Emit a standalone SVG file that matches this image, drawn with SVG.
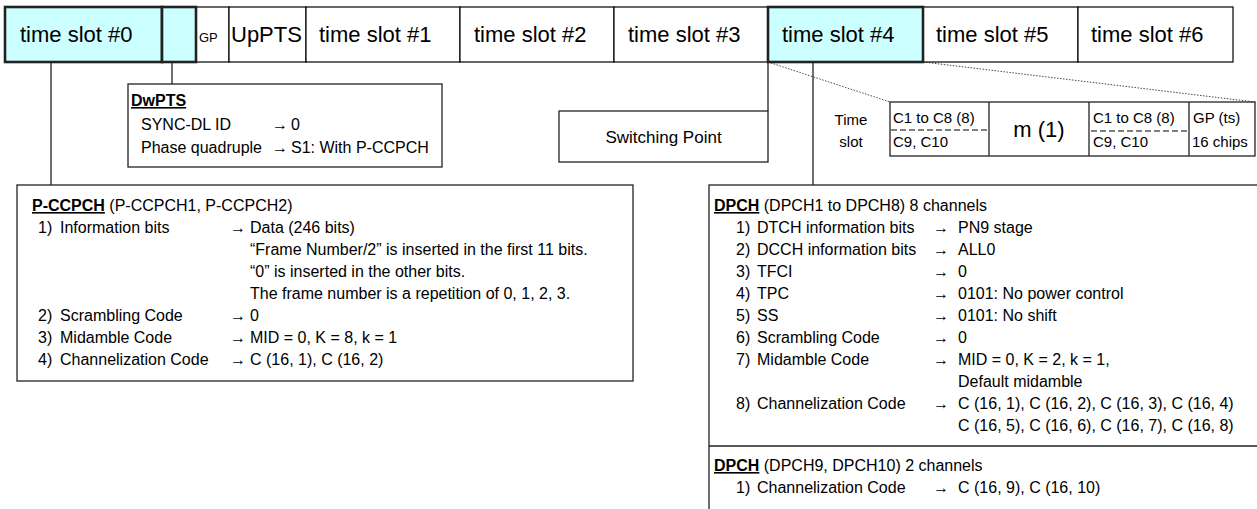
<svg xmlns="http://www.w3.org/2000/svg" width="1257" height="509" viewBox="0 0 1257 509">
<style>
text{font-family:"Liberation Sans",Arial,sans-serif;fill:#000}
.ts{font-size:22px}
.b{font-size:16px}
.s{font-size:15px}
.cell{fill:#fff;stroke:#000;stroke-width:1.2}
.hl{fill:#ccffff;stroke:#222;stroke-width:2.6}
.box{fill:#fff;stroke:#222;stroke-width:1.3}
.ln{stroke:#222;stroke-width:1.3;fill:none}
.dot{stroke:#333;stroke-width:0.9;stroke-dasharray:1.5 1.5;fill:none}
.dash{stroke:#000;stroke-width:1.2;stroke-dasharray:6 3;fill:none}
.t{font-weight:bold;text-decoration:underline}
</style>
<rect width="1257" height="509" fill="#fff"/>
<g id="connectors">
<line class="ln" x1="51" y1="62" x2="51" y2="185"/>
<line class="ln" x1="172" y1="62" x2="172" y2="84"/>
<line class="ln" x1="768" y1="62" x2="768" y2="111"/>
<line class="ln" x1="813" y1="62" x2="813" y2="185"/>
<line class="dot" x1="768" y1="62" x2="890" y2="102"/>
<line class="dot" x1="923" y1="62" x2="1255" y2="102"/>
</g>
<g id="frame">
<g id="gp"><rect class="cell" x="196" y="7" width="33" height="55"/><text x="199" y="42" font-size="13">GP</text></g>
<g id="uppts"><rect class="cell" x="229" y="7" width="77" height="55"/><text class="ts" x="231" y="42">UpPTS</text></g>
<g id="ts1"><rect class="cell" x="306" y="7" width="154" height="55"/><text class="ts" x="319" y="42">time slot #1</text></g>
<g id="ts2"><rect class="cell" x="460" y="7" width="154" height="55"/><text class="ts" x="474" y="42">time slot #2</text></g>
<g id="ts3"><rect class="cell" x="614" y="7" width="154" height="55"/><text class="ts" x="628" y="42">time slot #3</text></g>
<g id="ts5"><rect class="cell" x="923" y="7" width="155" height="55"/><text class="ts" x="936" y="42">time slot #5</text></g>
<g id="ts6"><rect class="cell" x="1078" y="7" width="155" height="55"/><text class="ts" x="1091" y="42">time slot #6</text></g>
<g id="ts0"><rect class="hl" x="5" y="7" width="157" height="55"/><text class="ts" x="20" y="42">time slot #0</text></g>
<g id="dwpts-cell"><rect class="hl" x="162" y="7" width="34" height="55"/></g>
<g id="ts4"><rect class="hl" x="768" y="7" width="155" height="55"/><text class="ts" x="782" y="42">time slot #4</text></g>
</g>
<g id="dwpts">
<rect class="box" x="128" y="84" width="314" height="83"/>
<text class="b t" x="131" y="106">DwPTS</text>
<text class="b" x="141" y="130">SYNC-DL ID</text><text class="b" x="272" y="130">→</text><text class="b" x="291" y="130">0</text>
<text class="b" x="141" y="153">Phase quadruple</text><text class="b" x="272" y="153">→</text><text class="b" x="291" y="153">S1: With P-CCPCH</text>
</g>
<g id="switching-point">
<rect class="box" x="559" y="111" width="209" height="51"/>
<text x="663.5" y="142.5" font-size="17" text-anchor="middle">Switching Point</text>
</g>
<g id="slot-detail">
<text class="s" x="851" y="125" text-anchor="middle">Time</text>
<text class="s" x="851" y="147" text-anchor="middle">slot</text>
<rect class="box" x="890" y="102" width="365" height="54"/>
<line class="ln" x1="989" y1="102" x2="989" y2="156"/>
<line class="ln" x1="1089" y1="102" x2="1089" y2="156"/>
<line class="ln" x1="1189" y1="102" x2="1189" y2="156"/>
<line class="dash" x1="891" y1="130" x2="989" y2="130"/>
<line class="dash" x1="1091" y1="131" x2="1189" y2="131"/>
<text class="s" x="893" y="123">C1 to C8 (8)</text>
<text class="s" x="893" y="147">C9, C10</text>
<text x="1039" y="137" font-size="22" text-anchor="middle">m (1)</text>
<text class="s" x="1093" y="123">C1 to C8 (8)</text>
<text class="s" x="1093" y="147">C9, C10</text>
<text class="s" x="1193" y="123">GP (ts)</text>
<text class="s" x="1192" y="147">16 chips</text>
</g>
<g id="pccpch">
<rect class="box" x="17" y="185" width="616" height="196"/>
<text class="b" x="32" y="211"><tspan class="t">P-CCPCH</tspan> (P-CCPCH1, P-CCPCH2)</text>
<text class="b" x="38" y="233">1)</text><text class="b" x="60" y="233">Information bits</text><text class="b" x="230" y="233">→</text><text class="b" x="250" y="233">Data (246 bits)</text>
<text class="b" x="250" y="255">“Frame Number/2” is inserted in the first 11 bits.</text>
<text class="b" x="250" y="277">“0” is inserted in the other bits.</text>
<text class="b" x="250" y="299">The frame number is a repetition of 0, 1, 2, 3.</text>
<text class="b" x="38" y="321">2)</text><text class="b" x="60" y="321">Scrambling Code</text><text class="b" x="230" y="321">→</text><text class="b" x="250" y="321">0</text>
<text class="b" x="38" y="343">3)</text><text class="b" x="60" y="343">Midamble Code</text><text class="b" x="230" y="343">→</text><text class="b" x="250" y="343">MID = 0, K = 8, k = 1</text>
<text class="b" x="38" y="365">4)</text><text class="b" x="60" y="365">Channelization Code</text><text class="b" x="230" y="365">→</text><text class="b" x="250" y="365">C (16, 1), C (16, 2)</text>
</g>
<g id="dpch">
<rect class="box" x="709" y="185" width="560" height="340"/>
<line class="ln" x1="709" y1="446" x2="1257" y2="446"/>
<text class="b" x="714" y="211"><tspan class="t">DPCH</tspan> (DPCH1 to DPCH8) 8 channels</text>
<text class="b" x="736" y="233">1)</text><text class="b" x="757" y="233">DTCH information bits</text><text class="b" x="933" y="233">→</text><text class="b" x="958" y="233">PN9 stage</text>
<text class="b" x="736" y="255">2)</text><text class="b" x="757" y="255">DCCH information bits</text><text class="b" x="933" y="255">→</text><text class="b" x="958" y="255">ALL0</text>
<text class="b" x="736" y="277">3)</text><text class="b" x="757" y="277">TFCI</text><text class="b" x="933" y="277">→</text><text class="b" x="958" y="277">0</text>
<text class="b" x="736" y="299">4)</text><text class="b" x="757" y="299">TPC</text><text class="b" x="933" y="299">→</text><text class="b" x="958" y="299">0101: No power control</text>
<text class="b" x="736" y="321">5)</text><text class="b" x="757" y="321">SS</text><text class="b" x="933" y="321">→</text><text class="b" x="958" y="321">0101: No shift</text>
<text class="b" x="736" y="343">6)</text><text class="b" x="757" y="343">Scrambling Code</text><text class="b" x="933" y="343">→</text><text class="b" x="958" y="343">0</text>
<text class="b" x="736" y="365">7)</text><text class="b" x="757" y="365">Midamble Code</text><text class="b" x="933" y="365">→</text><text class="b" x="958" y="365">MID = 0, K = 2, k = 1,</text>
<text class="b" x="958" y="387">Default midamble</text>
<text class="b" x="736" y="409">8)</text><text class="b" x="757" y="409">Channelization Code</text><text class="b" x="933" y="409">→</text><text class="b" x="958" y="409">C (16, 1), C (16, 2), C (16, 3), C (16, 4)</text>
<text class="b" x="958" y="431">C (16, 5), C (16, 6), C (16, 7), C (16, 8)</text>
<text class="b" x="714" y="471"><tspan class="t">DPCH</tspan> (DPCH9, DPCH10) 2 channels</text>
<text class="b" x="736" y="493">1)</text><text class="b" x="757" y="493">Channelization Code</text><text class="b" x="933" y="493">→</text><text class="b" x="958" y="493">C (16, 9), C (16, 10)</text>
</g>
</svg>
